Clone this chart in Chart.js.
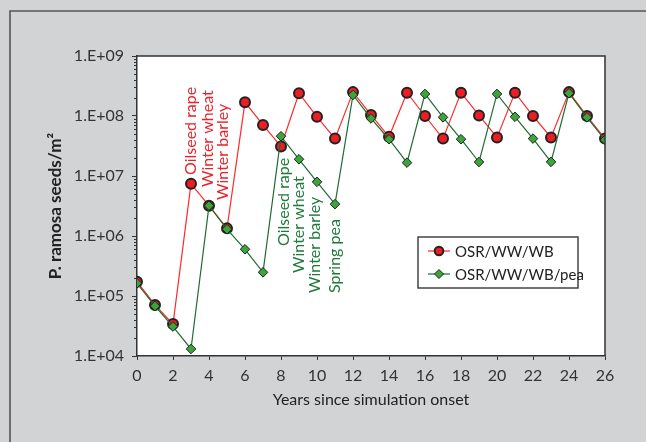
<!DOCTYPE html>
<html><head><meta charset="utf-8">
<script src="https://cdn.jsdelivr.net/npm/chart.js@4/dist/chart.umd.min.js"></script>
<style>html,body{margin:0;padding:0;background:#d1d3d4;overflow:hidden}#c{display:block}</style>
</head><body>
<canvas id="c" width="646" height="442"></canvas>
<script>
// ---- data ----
const years = [0,1,2,3,4,5,6,7,8,9,10,11,12,13,14,15,16,17,18,19,20,21,22,23,24,25,26];
const osrWwWb = [1.73e5,7.1e4,3.4e4,7.4e6,3.2e6,1.34e6,1.69e8,7.1e7,3.1e7,2.4e8,9.7e7,4.2e7,2.5e8,1.04e8,4.5e7,2.45e8,1.0e8,4.2e7,2.45e8,1.02e8,4.4e7,2.45e8,1.0e8,4.4e7,2.5e8,1.0e8,4.2e7];
const osrWwWbPea = [1.63e5,6.8e4,3.1e4,1.31e4,3.2e6,1.3e6,6.0e5,2.48e5,4.6e7,1.9e7,8.0e6,3.4e6,2.24e8,9.1e7,4.1e7,1.67e7,2.33e8,9.5e7,4.1e7,1.71e7,2.33e8,9.7e7,4.2e7,1.72e7,2.4e8,9.5e7,4.0e7];
const seriesLabels = ['OSR/WW/WB','OSR/WW/WB/pea'];
const yMajorTicks = [1e4,1e5,1e6,1e7,1e8,1e9];
const xTickStep = 2;
const redNotes = ['Oilseed rape','Winter wheat','Winter barley'];
const greenNotes = ['Oilseed rape','Winter wheat','Winter barley','Spring pea'];

const RED='#ee1c25', REDLINE='#ff2a2a', GREEN='#3aa63a', GREENLINE='#1d6b33', DARK='#222', AXIS='#333';
const FONT='Lato';

function minorTicks(){const t=[];for(let e=4;e<9;e++){for(let m=1;m<10;m++)t.push(m*Math.pow(10,e));}t.push(1e9);return t;}

const bgPlugin={id:'bg',beforeDraw(ch){const c=ch.ctx,a=ch.chartArea;c.save();
 c.fillStyle='#d1d3d4';c.fillRect(0,0,ch.width,ch.height);
 c.strokeStyle='#555';c.lineWidth=1.6;c.beginPath();c.moveTo(10,ch.height+5);c.lineTo(10,11);c.lineTo(ch.width+5,11);c.stroke();
 c.fillStyle='#fff';c.fillRect(a.left,a.top,a.right-a.left,a.bottom-a.top);c.restore();},
 afterDraw(ch){const c=ch.ctx,a=ch.chartArea,y=ch.scales.y,x=ch.scales.x;c.save();
 c.strokeStyle=AXIS;c.lineWidth=1.5;c.beginPath();c.moveTo(a.left,a.top);c.lineTo(a.right,a.top);c.lineTo(a.right,a.bottom);c.stroke();
 // minor log ticks
 c.lineWidth=1;c.beginPath();
 for(const v of minorTicks()){if(yMajorTicks.includes(v))continue;const p=Math.round(y.getPixelForValue(v))+0.5;c.moveTo(a.left-3,p);c.lineTo(a.left,p);}
 c.stroke();
 // annotations
 function notes(list,color,pos){c.fillStyle=color;c.font='16px '+FONT;c.textAlign='left';c.textBaseline='middle';
  list.forEach((t,i)=>{const px=x.getPixelForValue(pos[i][0]),py=y.getPixelForValue(pos[i][1]);c.save();c.translate(px,py);c.rotate(-Math.PI/2);c.fillText(t,0,0);c.restore();});}
 notes(redNotes,'#e8232a',[[2.97,Math.pow(10,7.017)],[3.94,Math.pow(10,6.817)],[4.79,Math.pow(10,6.6)]]);
 notes(greenNotes,'#1f7a3a',[[8.17,Math.pow(10,5.833)],[9.0,Math.pow(10,5.383)],[9.88,Math.pow(10,5.05)],[10.97,Math.pow(10,5.05)]]);
 // legend
 const lx=418,ly=237,lw=160,lh=51;c.fillStyle='#fff';c.fillRect(lx,ly,lw,lh);c.strokeStyle='#444';c.lineWidth=1.5;c.strokeRect(lx,ly,lw,lh);
 ch.data.datasets.forEach((ds,i)=>{const yy=ly+14+i*23;c.strokeStyle=ds.borderColor;c.lineWidth=1.2;c.beginPath();c.moveTo(lx+10,yy);c.lineTo(lx+32,yy);c.stroke();
  c.fillStyle=ds.pointBackgroundColor;c.strokeStyle=ds.pointBorderColor;c.lineWidth=i===0?2:1;c.beginPath();
  if(i===0){c.arc(lx+21,yy,4.3,0,Math.PI*2);}else{c.moveTo(lx+21,yy-4.5);c.lineTo(lx+25.5,yy);c.lineTo(lx+21,yy+4.5);c.lineTo(lx+16.5,yy);c.closePath();}
  c.fill();c.stroke();
  c.fillStyle=DARK;c.font='15px '+FONT;c.textAlign='left';c.textBaseline='middle';c.fillText(ds.label,lx+37,yy+1);});
 c.restore();}};

new Chart(document.getElementById('c'),{
 type:'line',
 data:{datasets:[
  {label:seriesLabels[0],data:years.map((x,i)=>({x,y:osrWwWb[i]})),borderColor:REDLINE,borderWidth:1.2,pointStyle:'circle',pointRadius:5,pointBorderWidth:2,pointBackgroundColor:RED,pointBorderColor:DARK,order:1},
  {label:seriesLabels[1],data:years.map((x,i)=>({x,y:osrWwWbPea[i]})),borderColor:GREENLINE,borderWidth:1.2,pointStyle:'rectRot',pointRadius:4.8,pointBorderWidth:1,pointBackgroundColor:GREEN,pointBorderColor:DARK,order:0}
 ]},
 plugins:[bgPlugin],
 options:{responsive:false,animation:false,devicePixelRatio:1,
  layout:{padding:{left:0,right:41,top:56,bottom:0}},
  plugins:{legend:{display:false},tooltip:{enabled:false}},
  scales:{
   x:{type:'linear',min:0,max:26,
     ticks:{stepSize:xTickStep,color:AXIS,font:{family:FONT,size:16},padding:6,maxRotation:0},
     grid:{drawOnChartArea:false,drawTicks:true,tickLength:4,tickColor:AXIS,tickWidth:1},
     border:{color:AXIS,width:1.5},
     title:{display:true,text:'Years since simulation onset',color:DARK,font:{family:FONT,size:16},padding:{top:0,bottom:33}},
     afterFit(s){s.height=86;}},
   y:{type:'logarithmic',min:1e4,max:1e9,
     afterBuildTicks(s){s.ticks=yMajorTicks.map(v=>({value:v}));},
     ticks:{autoSkip:false,color:AXIS,font:{family:FONT,size:16},padding:8,callback:v=>'1.E+'+String(Math.round(Math.log10(v))).padStart(2,'0')},
     grid:{drawOnChartArea:false,drawTicks:true,tickLength:5,tickColor:AXIS,tickWidth:1},
     border:{color:AXIS,width:1.5},
     title:{display:true,text:'P. ramosa seeds/m²',color:DARK,font:{family:FONT,size:17,weight:'bold'},padding:{top:45,bottom:0}},
     afterFit(s){s.width=137;}}
  }}
});
</script>
</body></html>
